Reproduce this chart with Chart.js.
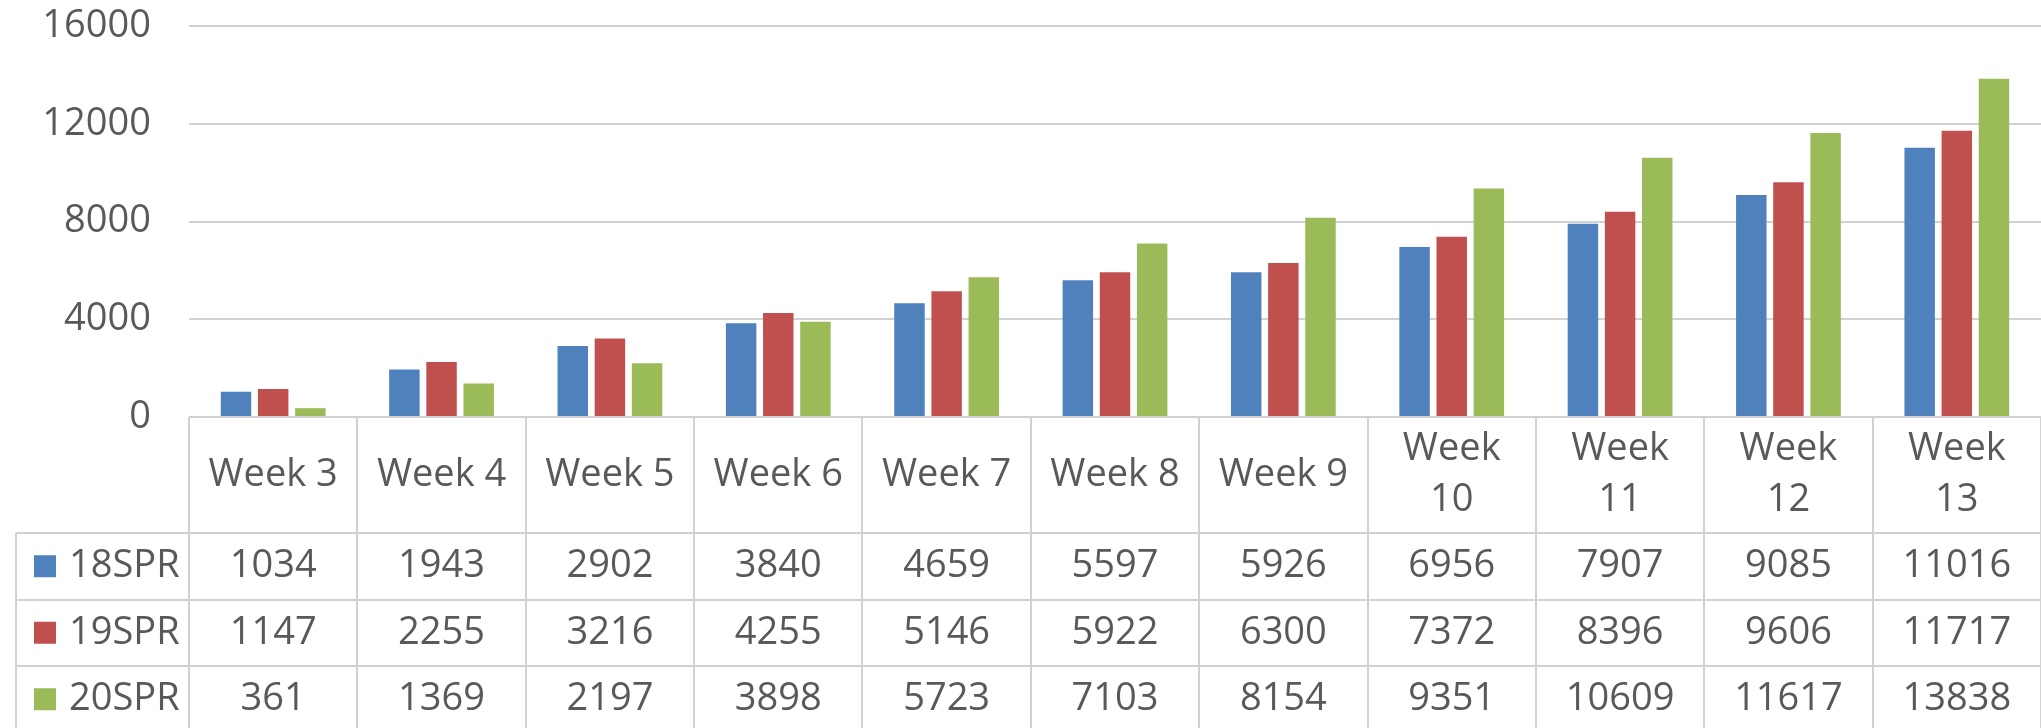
<!DOCTYPE html>
<html>
<head>
<meta charset="utf-8">
<script src="https://cdn.jsdelivr.net/npm/chart.js@4"></script>
<style>
  html, body { margin: 0; padding: 0; background: #fff; overflow: hidden; }
  #graph { display: block; }
</style>
</head>
<body>
<canvas id="graph" width="2041" height="728"></canvas>
<script>
const weeks = ['Week 3', 'Week 4', 'Week 5', 'Week 6', 'Week 7', 'Week 8', 'Week 9', 'Week 10', 'Week 11', 'Week 12', 'Week 13'];
const seriesNames = ['18SPR', '19SPR', '20SPR'];
const spr18 = [1034, 1943, 2902, 3840, 4659, 5597, 5926, 6956, 7907, 9085, 11016];
const spr19 = [1147, 2255, 3216, 4255, 5146, 5922, 6300, 7372, 8396, 9606, 11717];
const spr20 = [361, 1369, 2197, 3898, 5723, 7103, 8154, 9351, 10609, 11617, 13838];
const yTicks = [0, 4000, 8000, 12000, 16000];

const colors = ['#4f81bd', '#c0504d', '#9bbb59'];
const textColor = '#595959';
const lineColor = '#d2d2d2';
const fontSize = 38;
const fontFamily = '"Open Sans"';

// excel style data table under the plot, columns follow the x scale
const dataTable = {
  id: 'dataTable',
  afterDraw(chart) {
    const { ctx, chartArea: { left, right, bottom } } = chart;
    const xScale = chart.scales.x;
    const colW = (right - left) / weeks.length;
    const headerH = 116;
    const rowH = 66.5;
    const tableLeft = 16;
    const rowsTop = bottom + headerH;
    const tableBottom = rowsTop + rowH * seriesNames.length;
    const values = [spr18, spr19, spr20];

    ctx.save();
    ctx.strokeStyle = lineColor;
    ctx.lineWidth = 2;
    ctx.beginPath();
    // vertical lines
    for (let i = 0; i <= weeks.length; i++) {
      const x = Math.round(left + i * colW);
      ctx.moveTo(x, bottom);
      ctx.lineTo(x, tableBottom);
    }
    ctx.moveTo(tableLeft, rowsTop);
    ctx.lineTo(tableLeft, tableBottom);
    // horizontal lines
    for (let r = 0; r <= seriesNames.length; r++) {
      const y = Math.round(rowsTop + r * rowH);
      ctx.moveTo(tableLeft, y);
      ctx.lineTo(right, y);
    }
    ctx.stroke();

    ctx.fillStyle = textColor;
    ctx.font = `${fontSize}px ${fontFamily}`;
    ctx.textAlign = 'center';
    ctx.textBaseline = 'middle';

    // header row, long labels wrap on two lines
    const headerMid = bottom + headerH / 2;
    weeks.forEach((week, i) => {
      const cx = xScale.getPixelForValue(i);
      if (ctx.measureText(week).width > colW * 0.83) {
        const parts = week.split(' ');
        ctx.fillText(parts[0], cx, headerMid - 26);
        ctx.fillText(parts[1], cx, headerMid + 25);
      } else {
        ctx.fillText(week, cx, headerMid);
      }
    });

    // value rows
    values.forEach((row, r) => {
      const cy = rowsTop + r * rowH + rowH / 2;
      row.forEach((value, i) => {
        ctx.fillText(String(value), xScale.getPixelForValue(i), cy);
      });
    });

    // legend keys
    ctx.textAlign = 'left';
    seriesNames.forEach((name, r) => {
      const cy = rowsTop + r * rowH + rowH / 2;
      ctx.fillStyle = colors[r];
      ctx.fillRect(34, cy - 11, 22, 22);
      ctx.fillStyle = textColor;
      ctx.fillText(name, 69, cy);
    });
    ctx.restore();
  },
};

const ctx = document.querySelector('#graph').getContext('2d');

new Chart(ctx, {
  type: 'bar',
  data: {
    labels: weeks,
    datasets: [
      { label: seriesNames[0], data: spr18, backgroundColor: colors[0] },
      { label: seriesNames[1], data: spr19, backgroundColor: colors[1] },
      { label: seriesNames[2], data: spr20, backgroundColor: colors[2] },
    ],
  },
  options: {
    responsive: false,
    animation: false,
    categoryPercentage: 0.662,
    barPercentage: 0.82,
    layout: { padding: { top: 26, right: 0, bottom: 311, left: 0 } },
    plugins: {
      legend: { display: false },
      tooltip: { enabled: false },
    },
    scales: {
      x: {
        display: false,
      },
      y: {
        min: yTicks[0],
        max: yTicks[yTicks.length - 1],
        afterBuildTicks: (scale) => {
          scale.ticks = yTicks.map((value) => ({ value }));
        },
        afterFit: (scale) => {
          scale.width = 189;
          scale.paddingTop = 0;
          scale.paddingBottom = 0;
        },
        ticks: {
          callback: (value) => String(value),
          font: { family: 'Open Sans', size: fontSize },
          color: textColor,
          padding: 38,
        },
        grid: { color: lineColor, lineWidth: 2, drawTicks: false },
        border: { display: false },
      },
    },
  },
  plugins: [dataTable],
});
</script>
</body>
</html>
